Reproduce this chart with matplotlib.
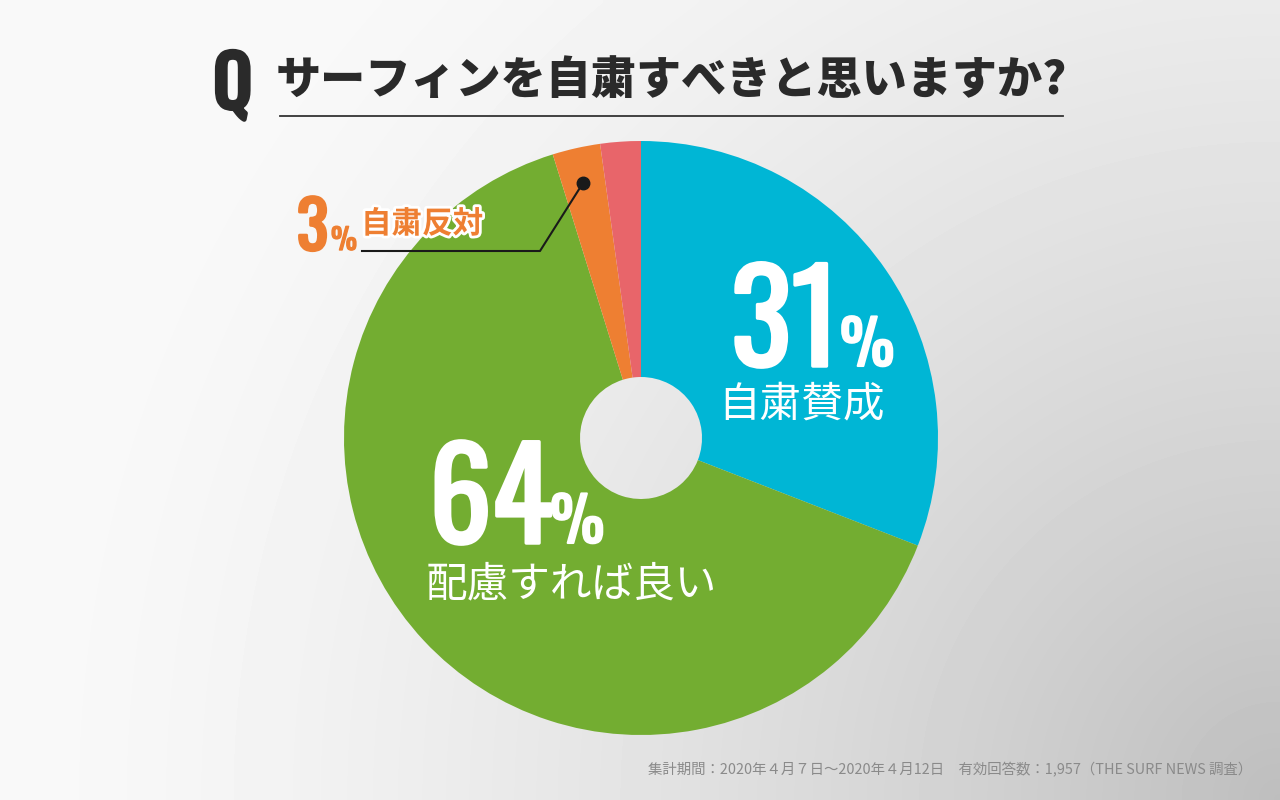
import numpy as np
import matplotlib.pyplot as plt
import matplotlib.patheffects as pe

# Data
labels = ["自粛賛成", "配慮すれば良い", "自粛反対", "その他"]
shares = [30.9, 64.3, 2.6, 2.2]
colors = ["#00b6d5", "#73ad31", "#ee7f32", "#e8656a"]
shown_pct = ["31", "64", "3"]

title = "サーフィンを自粛すべきと思いますか?"
footer = "集計期間：2020年４月７日～2020年４月12日　有効回答数：1,957（THE SURF NEWS 調査）"

W, H = 1280, 800
fig = plt.figure(figsize=(W / 100, H / 100), dpi=100)
ax = fig.add_axes([0, 0, 1, 1])

# background: light top-left, grey towards bottom-right
xx, yy = np.meshgrid(np.linspace(0, W, 320), np.linspace(0, H, 200))
d = np.hypot(W - xx, yy) / 1250.0
f = np.clip(1 - d, 0, 1) ** 1.4
bg = 0.975 - 0.23 * f
ax.imshow(bg, cmap="gray", vmin=0, vmax=1, extent=(0, W, 0, H), origin="lower",
          interpolation="bicubic", zorder=0)

cx, cy = 641, H - 438
r_out, r_in = 297, 61
ax.pie(shares, colors=colors, startangle=90, counterclock=False,
       center=(cx, cy), radius=r_out,
       wedgeprops=dict(width=r_out - r_in, linewidth=0))

ax.set_xlim(0, W)
ax.set_ylim(0, H)
ax.set_aspect("equal")
ax.axis("off")

jp = ["Noto Sans CJK JP", "DejaVu Sans"]
num = ["Oswald", "DejaVu Sans"]

def py(y):
    return H - y

def bold(c, w=3.0):
    # Oswald only has the regular cut here, thicken it with a same-colour stroke
    return [pe.withStroke(linewidth=w, foreground=c)]

# title
ax.text(214, py(108), "Q", fontsize=50, family=num, color="#2a2a2a",
        ha="left", va="baseline", path_effects=bold("#2a2a2a", 3.5))
ax.text(276, py(80), title, fontsize=32.5, fontweight="black", family=jp,
        color="#2a2a2a", ha="left", va="center")
ax.plot([280, 1063], [py(116), py(116)], color="#333333", lw=1.3)

# big labels
ax.text(731, py(366), shown_pct[0], fontsize=91, family=num, color="white",
        ha="left", va="baseline", path_effects=bold("white", 2.5))
ax.text(840, py(366), "%", fontsize=44, family=num, color="white",
        ha="left", va="baseline", path_effects=bold("white", 1.5))
ax.text(718, py(405), labels[0], fontsize=30, family=jp, color="white",
        ha="left", va="center")

ax.text(429, py(543), shown_pct[1], fontsize=90, family=num, color="white",
        ha="left", va="baseline", path_effects=bold("white", 2.5))
ax.text(550, py(543), "%", fontsize=44, family=num, color="white",
        ha="left", va="baseline", path_effects=bold("white", 1.5))
ax.text(426, py(585), labels[1], fontsize=30, family=jp, color="white",
        ha="left", va="center")

# small label with leader
ax.text(297, py(250), shown_pct[2], fontsize=47, family=num, color=colors[2],
        ha="left", va="baseline", path_effects=bold(colors[2], 2.2))
ax.text(331, py(250), "%", fontsize=21, family=num, color=colors[2],
        ha="left", va="baseline", path_effects=bold(colors[2], 1.0))
ax.text(361, py(224), labels[2], fontsize=22, fontweight="bold", family=jp,
        color=colors[2], ha="left", va="center",
        path_effects=[pe.withStroke(linewidth=4, foreground="white")])
ax.plot([362, 540, 583], [py(251), py(251), py(183)], color="#1a1a1a", lw=1.5)
ax.plot([583], [py(183)], "o", color="#1a1a1a", ms=9)

# footer
ax.text(1252, py(770), footer, fontsize=10.4, family=jp, color="#8a8a8a",
        ha="right", va="center")

fig.savefig("out.png", dpi=100)
